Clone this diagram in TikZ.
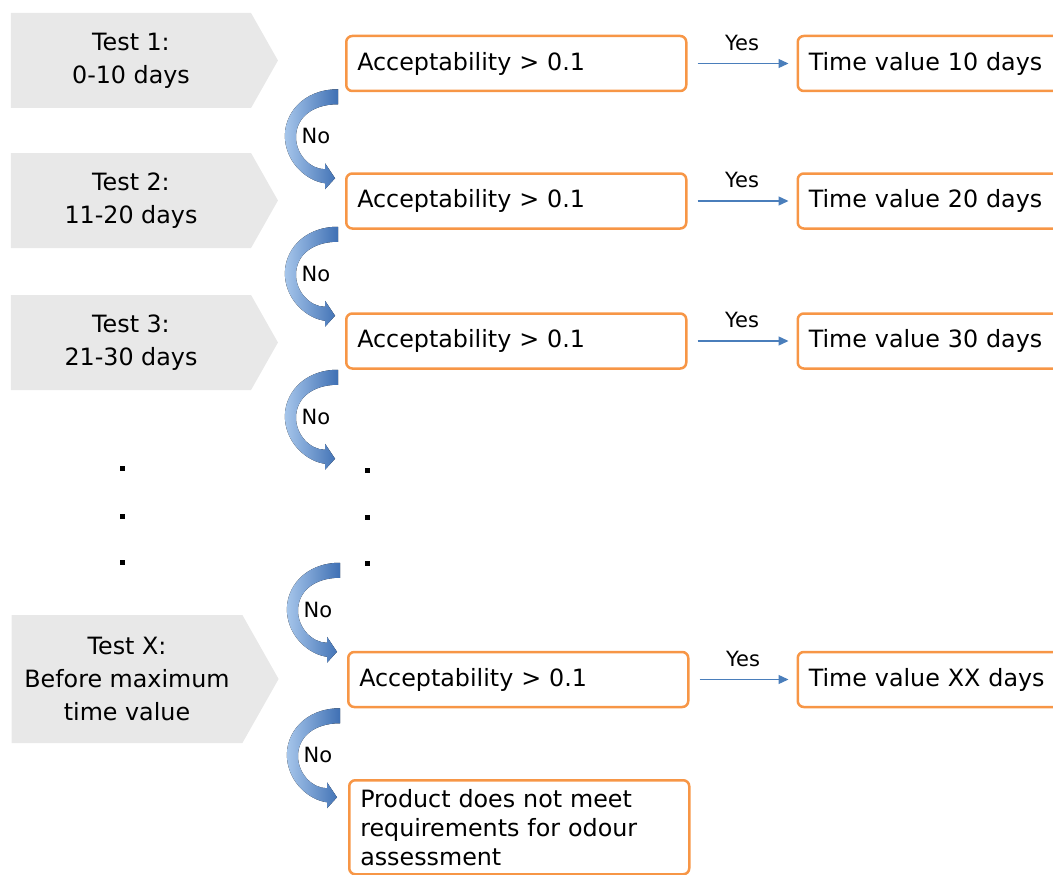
\documentclass[tikz,border=0pt]{standalone}
\usepackage{fontspec}
\setmainfont{DejaVu Sans}
\usetikzlibrary{positioning,arrows.meta,shapes.symbols}
\definecolor{boxorange}{HTML}{F79646}
\definecolor{tabgray}{HTML}{E8E8E8}
\definecolor{yesblue}{HTML}{4A7EBB}
\definecolor{nolight}{HTML}{A9C8EC}
\definecolor{nodark}{HTML}{3F70B4}
\tikzset{>={Triangle[width=9pt,length=10pt]}}
\tikzset{
	testtab/.style={signal, signal to=east, signal pointer angle=121, fill=tabgray,
		minimum width=267pt, minimum height=95pt, inner sep=0pt, align=center,
		font=\fontsize{23.8}{33}\selectfont},
	accbox/.style={draw=boxorange, line width=2.5pt, rounded corners=6pt,
		minimum height=55pt, text width=318pt, inner xsep=11pt, align=left,
		font=\fontsize{23.8}{29}\selectfont},
	resbox/.style={accbox, text width=250pt},
	yesarrow/.style={->, yesblue, line width=1.3pt, shorten <=10pt, shorten >=8pt},
	yeslabel/.style={above=9pt, text=black, font=\fontsize{21}{25}\selectfont},
	nolabel/.style={font=\fontsize{21}{25}\selectfont},
	dotmark/.style={fill=black, minimum size=5pt, inner sep=0pt},
	noarrow/.pic={
		\fill[left color=nolight, right color=nodark]
			(0,0) .. controls (-35,0) and (-55,-25) .. (-53,-50)
			.. controls (-51,-75) and (-30,-92) .. (-13,-94)
			-- (-13,-100) -- (-3,-89) -- (-13,-74) -- (-13,-80)
			.. controls (-28,-80) and (-42,-65) .. (-42,-48)
			.. controls (-42,-28) and (-25,-15) .. (0,-15) -- cycle;
		\node[nolabel] (-lbl) at (-22,-47) {No};
	}
}

\begin{document}
\begin{tikzpicture}[x=1pt,y=1pt]
	\clip (0,0) rectangle (1053,-875);

	% test tabs
	\node[testtab] (tab1) at (131,-60.5)	{Test 1:\\0-10 days};
	\node[testtab] (tab2) at (131,-200.5)	{Test 2:\\11-20 days};
	\node[testtab] (tab3) at (131,-342.5)	{Test 3:\\21-30 days};
	\node[testtab, minimum height=128pt] (tabx) at (127,-679) {Test X:\\Before maximum\\time value};

	% checks
	\node[accbox, anchor=west] (acc1) at (345,-63.5)	{Acceptability > 0.1};
	\node[accbox, anchor=west] (acc2) at (345,-201)		{Acceptability > 0.1};
	\node[accbox, anchor=west] (acc3) at (345,-341)		{Acceptability > 0.1};
	\node[accbox, anchor=west] (acc4) at (347,-679.5)	{Acceptability > 0.1};
	\node[accbox, anchor=north west, minimum height=94pt] (fail) at (348,-779)
		{Product does not meet requirements for odour assessment};

	% results
	\node[resbox] (res1) [right=109pt of acc1]	{Time value 10 days};
	\node[resbox] (res2) [right=109pt of acc2]	{Time value 20 days};
	\node[resbox] (res3) [right=109pt of acc3]	{Time value 30 days};
	\node[resbox] (res4) [right=107pt of acc4]	{Time value XX days};

	\draw[yesarrow] (acc1) -- node[yeslabel]{Yes} (res1);
	\draw[yesarrow] (acc2) -- node[yeslabel]{Yes} (res2);
	\draw[yesarrow] (acc3) -- node[yeslabel]{Yes} (res3);
	\draw[yesarrow] (acc4) -- node[yeslabel]{Yes} (res4);

	% no arrows
	\pic (no1) at ([shift={(-7pt,3pt)}]acc1.south west) {noarrow};
	\pic (no2) at ([shift={(-7pt,3pt)}]acc2.south west) {noarrow};
	\pic (no3) at ([shift={(-7pt,0pt)}]acc3.south west) {noarrow};
	\pic (no4) at ([shift={(-7pt,88pt)}]acc4.north west) {noarrow};
	\pic (no5) at ([shift={(-7pt,0pt)}]acc4.south west) {noarrow};

	% dots
	\foreach \i/\y in {1/468,2/516,3/562}
		\node[dotmark] (ldot\i) at (122,-\y) {};
	\foreach \i/\y in {1/470,2/517,3/563}
		\node[dotmark] (rdot\i) at (367,-\y) {};
\end{tikzpicture}
\end{document}
